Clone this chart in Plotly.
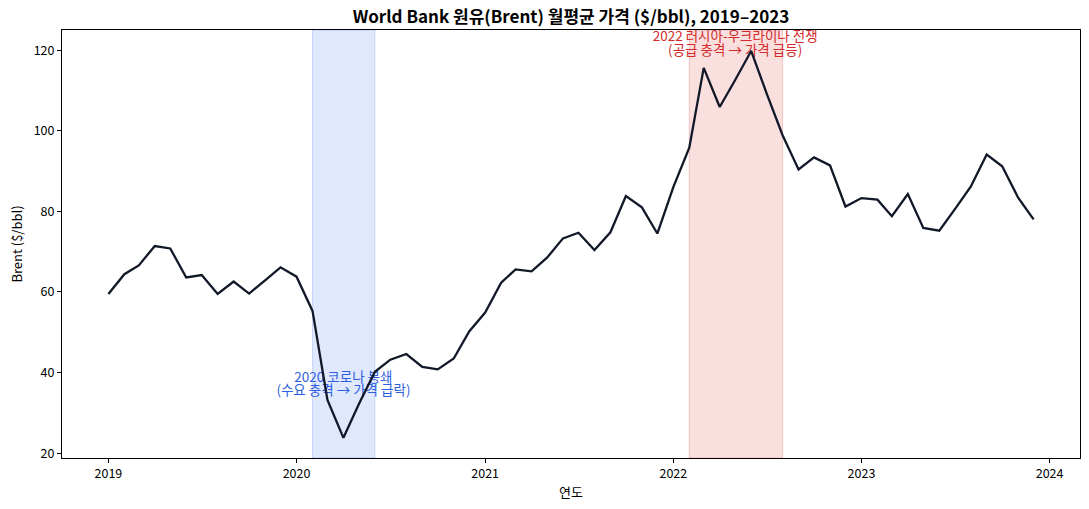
import plotly.graph_objects as go
import pandas as pd

months = pd.date_range("2019-01-01", "2023-12-01", freq="MS").strftime("%Y-%m-%d").tolist()
brent = [
    59.5, 64.4, 66.6, 71.4, 70.8, 63.6, 64.2, 59.5, 62.6, 59.6, 62.9, 66.1,
    63.8, 55.3, 33.2, 23.8, 32.2, 40.2, 43.2, 44.6, 41.4, 40.8, 43.5, 50.2,
    54.9, 62.3, 65.6, 65.1, 68.5, 73.3, 74.7, 70.4, 74.8, 83.8, 81.0, 74.5,
    86.0, 95.8, 115.6, 105.9, 112.6, 119.8, 109.3, 98.9, 90.4, 93.4, 91.4, 81.2,
    83.3, 82.9, 78.8, 84.3, 75.9, 75.2, 80.5, 86.1, 94.1, 91.2, 83.4, 78.0,
]

covid_span = ["2020-02-01", "2020-06-01"]
covid_lines = ["2020 코로나 봉쇄", "(수요 충격 → 가격 급락)"]
covid_x = "2020-04-01"
covid_y = [38.6, 35.2]
war_span = ["2022-02-01", "2022-08-01"]
war_lines = ["2022 러시아-우크라이나 전쟁", "(공급 충격 → 가격 급등)"]
war_x = "2022-05-01"
war_y = [123.2, 119.7]

year_ticks = ["2019-01-01", "2020-01-01", "2021-01-01", "2022-01-01", "2023-01-01", "2024-01-01"]
year_labels = ["2019", "2020", "2021", "2022", "2023", "2024"]

FONT = "Noto Sans CJK KR"
BLUE = "#2f5fe0"
RED = "#d42a2a"

fig = go.Figure()
fig.add_trace(go.Scatter(
    x=[covid_x] * len(covid_lines), y=covid_y, mode="text", text=covid_lines,
    textposition="middle center", textfont=dict(color=BLUE, size=13.5, family=FONT),
    hoverinfo="skip", showlegend=False))
fig.add_trace(go.Scatter(
    x=[war_x] * len(war_lines), y=war_y, mode="text", text=war_lines,
    textposition="middle center", textfont=dict(color=RED, size=13.5, family=FONT),
    hoverinfo="skip", showlegend=False, cliponaxis=False))
fig.add_trace(go.Scatter(
    x=months, y=brent, mode="lines", line=dict(color="#111827", width=2.3),
    showlegend=False))

fig.add_vrect(x0=covid_span[0], x1=covid_span[1], fillcolor="rgba(37,99,235,0.15)",
              line=dict(color="rgba(37,99,235,0.2)", width=1), layer="below")
fig.add_vrect(x0=war_span[0], x1=war_span[1], fillcolor="rgba(220,38,38,0.15)",
              line=dict(color="rgba(220,38,38,0.2)", width=1), layer="below")

axis_common = dict(showline=True, linecolor="black", linewidth=1, mirror=True,
                   showgrid=False, zeroline=False, ticks="outside", ticklen=4,
                   tickcolor="black", automargin=False,
                   tickfont=dict(size=12.5, color="black", family=FONT))

fig.update_layout(
    width=1089, height=509,
    margin=dict(l=62, r=9, t=30, b=51),
    paper_bgcolor="white", plot_bgcolor="white",
    font=dict(family=FONT, color="black"),
    title=dict(text="<b>World Bank 원유(Brent) 월평균 가격 ($/bbl), 2019–2023</b>",
               x=0.5243, xanchor="center", y=0.966, yanchor="middle",
               font=dict(size=17, family=FONT, color="black")),
    xaxis=dict(range=["2018-10-03", "2024-02-29"], tickvals=year_ticks, ticktext=year_labels,
               title=dict(text="연도", font=dict(size=13, family=FONT), standoff=6),
               **axis_common),
    yaxis=dict(range=[18.8, 125.0], tickvals=[20, 40, 60, 80, 100, 120],
               title=dict(text="Brent ($/bbl)", font=dict(size=13, family=FONT), standoff=8),
               **axis_common),
)

fig.write_html("out.html", config={"displayModeBar": False},
               post_script="document.body.style.margin='0';document.body.style.padding='0';")
